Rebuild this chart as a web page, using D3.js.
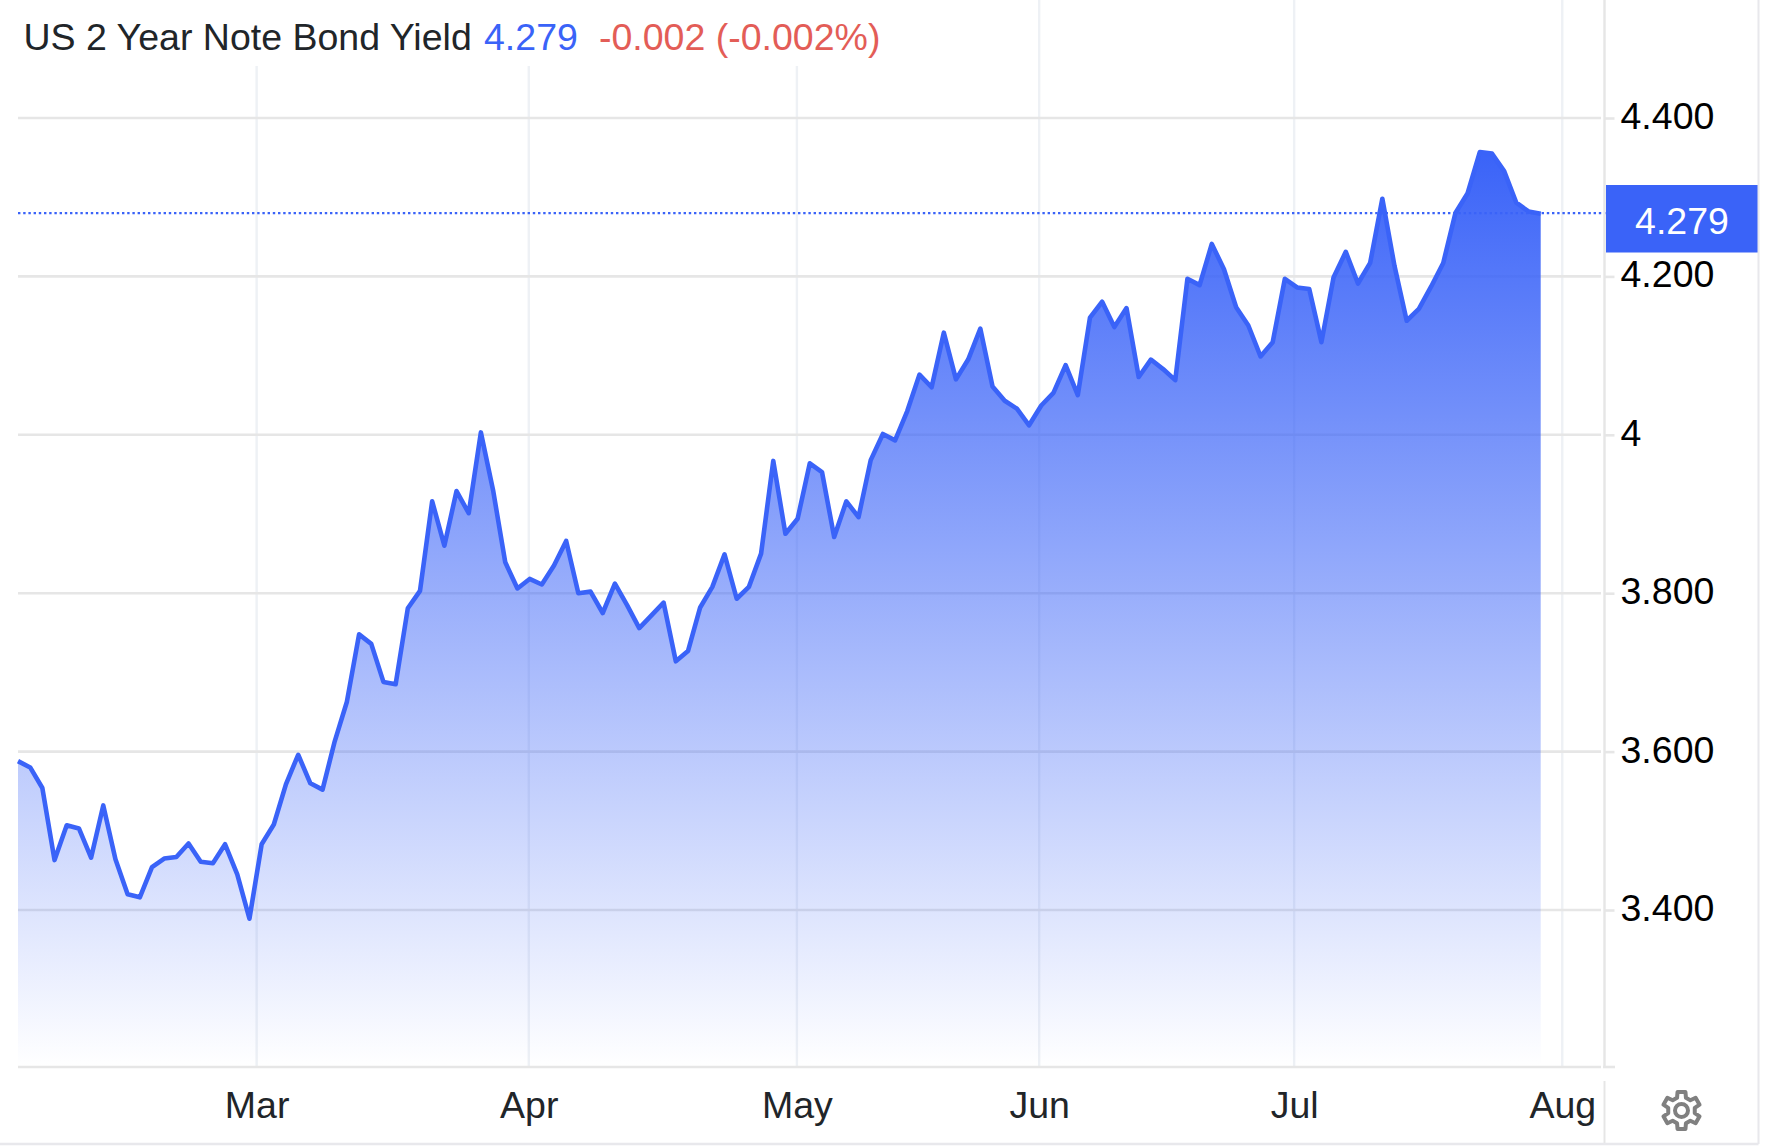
<!DOCTYPE html>
<html>
<head>
<meta charset="utf-8">
<script src="https://cdn.jsdelivr.net/npm/d3@7"></script>
<style>
  html, body { margin: 0; padding: 0; background: #fff; }
  text { font-family: "Liberation Sans", Arial, sans-serif; }
</style>
</head>
<body>
<svg id="chart"></svg>
<script>
//yield values, one per trading day
let yields = [
  3.588, 3.580, 3.554, 3.463, 3.507, 3.503, 3.466, 3.532, 3.464, 3.420,
  3.416, 3.454, 3.465, 3.467, 3.484, 3.461, 3.459, 3.483, 3.445, 3.389,
  3.483, 3.508, 3.559, 3.596, 3.560, 3.552, 3.613, 3.663, 3.748, 3.736,
  3.688, 3.685, 3.781, 3.803, 3.916, 3.860, 3.929, 3.901, 4.003, 3.930,
  3.839, 3.806, 3.818, 3.811, 3.835, 3.866, 3.800, 3.802, 3.775, 3.812,
  3.785, 3.756, 3.772, 3.788, 3.714, 3.727, 3.782, 3.808, 3.849, 3.793,
  3.808, 3.850, 3.967, 3.875, 3.894, 3.964, 3.953, 3.871, 3.916, 3.896,
  3.968, 4.001, 3.993, 4.030, 4.076, 4.060, 4.129, 4.070, 4.095, 4.134,
  4.061, 4.043, 4.033, 4.012, 4.037, 4.053, 4.088, 4.050, 4.148, 4.168,
  4.136, 4.160, 4.073, 4.095, 4.083, 4.069, 4.197, 4.189, 4.241, 4.209,
  4.161, 4.138, 4.099, 4.117, 4.197, 4.186, 4.184, 4.117, 4.199, 4.231,
  4.191, 4.217, 4.298, 4.213, 4.144, 4.159, 4.187, 4.217, 4.280, 4.305,
  4.357, 4.355, 4.333, 4.293, 4.282, 4.279
]

//month labels and where each month starts, in trading days from the first point
let months = ['Mar', 'Apr', 'May', 'Jun', 'Jul', 'Aug']
let monthStarts = [19.59, 41.93, 63.94, 83.83, 104.76, 126.77]

let yTicks = [3.4, 3.6, 3.8, 4, 4.2, 4.4]
let lastValue = 4.279
let titleName = 'US 2 Year Note Bond Yield'
let titleValue = '4.279'
let titleChange = '-0.002 (-0.002%)'

let blue = '#3a63f8'
let outerWidth = 1768
let outerHeight = 1148
let fontSize = 37.5

//plot edges
let plotLeft = 18
let plotBottom = 1067
let axisX = 1604.5
let footerY = 1144
let sideRight = 1758.5

let svg = d3.select('svg#chart')
  .attr('width', outerWidth)
  .attr('height', outerHeight)
  .style('display', 'block')

let xScale = d3.scaleLinear().domain([0, yields.length - 1]).range([plotLeft, 1540.7])
let yScale = d3.scaleLinear().domain([3.4, 4.4]).range([910, 118])

let defs = svg.append('defs')
let fade = defs.append('linearGradient')
  .attr('id', 'fade')
  .attr('x1', 0).attr('y1', 0).attr('x2', 0).attr('y2', 1)
fade.append('stop').attr('offset', '0%').attr('stop-color', blue).attr('stop-opacity', 1)
fade.append('stop').attr('offset', '100%').attr('stop-color', blue).attr('stop-opacity', 0)

//vertical grid
svg.append('g')
  .selectAll('line')
  .data(monthStarts)
  .join('line')
  .attr('x1', d => xScale(d))
  .attr('x2', d => xScale(d))
  .attr('y1', 0)
  .attr('y2', plotBottom)
  .attr('stroke', '#eef1f5')
  .attr('stroke-width', 2.4)

//horizontal grid
svg.append('g')
  .selectAll('line')
  .data(yTicks)
  .join('line')
  .attr('x1', plotLeft)
  .attr('x2', axisX - 3.5)
  .attr('y1', d => yScale(d))
  .attr('y2', d => yScale(d))
  .attr('stroke', '#e6e6e6')
  .attr('stroke-width', 2.6)

//area and line
let area = d3.area()
  .x((d, i) => xScale(i))
  .y0(plotBottom)
  .y1(d => yScale(d))
let line = d3.line()
  .x((d, i) => xScale(i))
  .y(d => yScale(d))

svg.append('path')
  .datum(yields)
  .attr('d', area)
  .attr('fill', 'url(#fade)')

svg.append('path')
  .datum(yields)
  .attr('d', line)
  .attr('fill', 'none')
  .attr('stroke', blue)
  .attr('stroke-width', 4.6)
  .attr('stroke-linejoin', 'round')
  .attr('stroke-linecap', 'butt')

//last value line
svg.append('line')
  .attr('x1', plotLeft)
  .attr('x2', axisX + 2)
  .attr('y1', yScale(lastValue) - 0.8)
  .attr('y2', yScale(lastValue) - 0.8)
  .attr('stroke', blue)
  .attr('stroke-width', 2.2)
  .attr('stroke-dasharray', '2.4 2.8')

//right axis
let yAxis = d3.axisRight(yScale)
  .tickValues(yTicks)
  .tickSize(10)
  .tickPadding(6)
  .tickFormat(d => d === 4 ? '4' : d3.format('.3f')(d))

let yGroup = svg.append('g')
  .attr('transform', 'translate(' + axisX + ',0)')
  .call(yAxis)
yGroup.select('.domain').remove()
yGroup.selectAll('.tick line').attr('stroke', '#e6e6e6').attr('stroke-width', 2.6)
yGroup.selectAll('.tick text')
  .attr('fill', '#000')
  .attr('font-size', fontSize)
  .attr('dy', '0.28em')

svg.append('line')
  .attr('x1', axisX).attr('x2', axisX)
  .attr('y1', 0).attr('y2', plotBottom + 1)
  .attr('stroke', '#e6e6e6')
  .attr('stroke-width', 2.4)

//bottom axis
let xAxis = d3.axisBottom(xScale)
  .tickValues(monthStarts)
  .tickSize(0)
  .tickPadding(24)
  .tickFormat((d, i) => months[i])

let xGroup = svg.append('g')
  .attr('transform', 'translate(0,' + plotBottom + ')')
  .call(xAxis)
xGroup.select('.domain').remove()
xGroup.selectAll('.tick text')
  .attr('fill', '#212529')
  .attr('font-size', fontSize)

svg.append('line')
  .attr('x1', plotLeft).attr('x2', axisX - 3.5)
  .attr('y1', plotBottom).attr('y2', plotBottom)
  .attr('stroke', '#e6e6e6').attr('stroke-width', 2.6)
svg.append('line')
  .attr('x1', axisX - 1.5).attr('x2', 1615)
  .attr('y1', plotBottom).attr('y2', plotBottom)
  .attr('stroke', '#e6e6e6').attr('stroke-width', 2.6)

//last value label
svg.append('rect')
  .attr('x', 1606)
  .attr('y', 185)
  .attr('width', 152)
  .attr('height', 67.5)
  .attr('fill', blue)
svg.append('text')
  .attr('x', 1682)
  .attr('y', 234)
  .attr('text-anchor', 'middle')
  .attr('fill', '#fff')
  .attr('font-size', fontSize)
  .text(titleValue)

//title, on a white strip that hides the grid
let title = svg.append('g')
let titleBack = title.append('rect').attr('fill', '#fff')
let titleText = title.append('text')
  .attr('x', 23.5)
  .attr('y', 50)
  .attr('font-size', fontSize)
titleText.append('tspan').attr('fill', '#212529').text(titleName)
titleText.append('tspan').attr('x', 484).attr('fill', blue).text(titleValue)
titleText.append('tspan').attr('x', 599).attr('fill', '#e35d57').text(titleChange)
titleBack
  .attr('x', 0).attr('y', 0)
  .attr('width', 900)
  .attr('height', 66)

//footer borders
svg.append('line')
  .attr('x1', axisX).attr('x2', axisX)
  .attr('y1', 1081).attr('y2', footerY)
  .attr('stroke', '#e6e6e6').attr('stroke-width', 2)
svg.append('line')
  .attr('x1', 0).attr('x2', sideRight)
  .attr('y1', footerY).attr('y2', footerY)
  .attr('stroke', '#e8e8ec').attr('stroke-width', 2.6)
svg.append('line')
  .attr('x1', sideRight).attr('x2', sideRight)
  .attr('y1', 0).attr('y2', footerY)
  .attr('stroke', '#e8e8ec').attr('stroke-width', 2)

//settings gear
let gearRadii = [19, 19, 13.5, 13.5]
let gearPoints = []
d3.range(6).forEach(t => {
  let step = Math.PI / 3
  let a = t * step
  gearPoints.push([a - step * 0.2, gearRadii[0]])
  gearPoints.push([a + step * 0.2, gearRadii[1]])
  gearPoints.push([a + step * 0.32, gearRadii[2]])
  gearPoints.push([a + step * 0.68, gearRadii[3]])
})
let gear = svg.append('g').attr('transform', 'translate(1681.5,1110.5)')
gear.append('path')
  .attr('d', d3.lineRadial().curve(d3.curveLinearClosed)(gearPoints))
  .attr('fill', 'none')
  .attr('stroke', '#808080')
  .attr('stroke-width', 4)
  .attr('stroke-linejoin', 'round')
gear.append('circle')
  .attr('r', 6.5)
  .attr('fill', 'none')
  .attr('stroke', '#808080')
  .attr('stroke-width', 4)
</script>
</body>
</html>
